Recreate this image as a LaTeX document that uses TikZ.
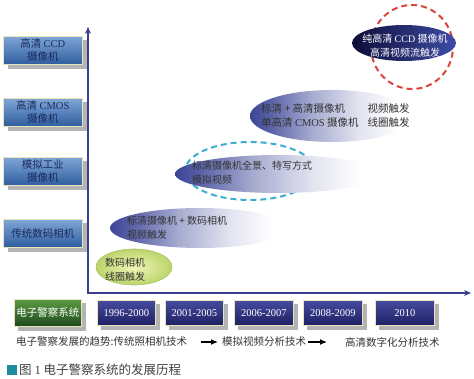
\documentclass[tikz,border=0pt]{standalone}
\usepackage{fontspec}
\setmainfont{Liberation Serif}
\newfontfamily\cjk{Noto Sans CJK SC}
\usetikzlibrary{arrows.meta,backgrounds}
\definecolor{axisblue}{HTML}{3A3F8F}
\definecolor{lbtop}{HTML}{7FA6D6}
\definecolor{lbbot}{HTML}{2F5E9E}
\definecolor{lbtext}{HTML}{1B2A5E}
\definecolor{boxedge}{HTML}{E6E4B8}
\definecolor{shadowgray}{HTML}{B4B4B4}
\definecolor{yrtop}{HTML}{464B9E}
\definecolor{yrbot}{HTML}{1E2163}
\definecolor{grtop}{HTML}{5C9A42}
\definecolor{grbot}{HTML}{1D4A1D}
\definecolor{fb}{HTML}{3B4596}
\colorlet{fbd}{fb!85!white}
\colorlet{fbm}{fb!45!white}
\colorlet{fbl}{fb!15!white}
\definecolor{gin}{HTML}{F1F6B6}
\definecolor{gout}{HTML}{BBD46C}
\definecolor{gedge}{HTML}{A9C262}
\definecolor{navyl}{HTML}{0D0D38}
\definecolor{navyr}{HTML}{3E4CA6}
\definecolor{cyandash}{HTML}{3AAED0}
\definecolor{reddash}{HTML}{D8453C}
\definecolor{capteal}{HTML}{1E8C9C}
\definecolor{txtgray}{HTML}{333333}
\pgfdeclarehorizontalshading{bluefade}{100bp}{color(0bp)=(fb); color(25bp)=(fb); color(31bp)=(fbd); color(44bp)=(fbm); color(58bp)=(fbl); color(70bp)=(white); color(100bp)=(white)}
\tikzset{
  leftbox/.style={draw=boxedge, line width=0.6pt, top color=lbtop, bottom color=lbbot,
    minimum width=79pt, minimum height=28pt, inner sep=0pt, align=center,
    font=\cjk\fontsize{10.5}{13}\selectfont, text=lbtext, anchor=north west},
  yearbox/.style={draw=boxedge, line width=0.6pt, top color=yrtop, bottom color=yrbot,
    minimum width=58pt, minimum height=25pt, inner sep=0pt,
    font=\fontsize{10.5}{12}\selectfont, text=white, anchor=north west},
  greenbox/.style={draw=boxedge, line width=0.6pt, top color=grtop, bottom color=grbot,
    minimum width=67pt, minimum height=27pt, inner sep=0pt,
    font=\cjk\fontsize{10.5}{12}\selectfont, text=white, anchor=north west},
  etext/.style={inner sep=0pt, align=left, font=\cjk\fontsize{10}{14}\selectfont, text=txtgray},
  axisline/.style={draw=axisblue, line width=1.6pt, line join=miter,
    {Stealth[length=7pt,width=6pt]}-{Stealth[length=7pt,width=6pt]}},
  trendarrow/.style={line width=1.2pt, -{Latex[length=7pt,width=6pt]}},
  dashring/.style={line width=2pt, dash pattern=on 6pt off 4pt},
  trendtext/.style={inner sep=0pt, anchor=west, font=\cjk\fontsize{10.5}{12}\selectfont, text=txtgray},
}
\begin{document}
\begin{tikzpicture}[x=1pt,y=-1pt]
\useasboundingbox (0,0) rectangle (474,379);

% axes
\coordinate (ytip) at (88,27);
\coordinate (origin) at (88,293);
\coordinate (xtip) at (471,293);
\draw[axisline] (ytip) -- (origin) -- (xtip);

% dashed rings (behind ellipses)
\draw[dashring, draw=cyandash] (250,171) ellipse [x radius=65pt, y radius=29pt];
\draw[dashring, draw=reddash] (412,47) ellipse [x radius=41pt, y radius=42pt];

% ellipses
\shade[shading=bluefade] (200,228) ellipse [x radius=90pt, y radius=20pt];
\shade[shading=bluefade] (278,174) ellipse [x radius=103pt, y radius=19pt];
\shade[shading=bluefade] (332,116) ellipse [x radius=82pt, y radius=26pt];
\shade[inner color=gin, outer color=gout, draw=gedge, line width=0.6pt] (134,267) ellipse [x radius=38pt, y radius=18pt];
\shade[left color=navyl, right color=navyr] (404,43) ellipse [x radius=52pt, y radius=18pt];

% ellipse texts
\node[etext, anchor=west] (gtxt) at (105,270) {数码相机\\线圈触发};
\node[etext, anchor=west] (e2txt) at (127,228) {标清摄像机 + 数码相机\\视频触发};
\node[etext, anchor=west] (e3txt) at (192,173) {标清摄像机全景、特写方式\\模拟视频};
\node[etext, anchor=west, font=\cjk\fontsize{10.5}{14}\selectfont] (e4txt) at (261,117) {\begin{tabular}{@{}l@{\hspace{9pt}}l@{}}标清 + 高清摄像机 & 视频触发\\[0pt]单高清 \textrm{CMOS} 摄像机 & 线圈触发\end{tabular}};
\node[etext, align=center, text=white] (e5txt) at (405,46) {纯高清 \textrm{CCD} 摄像机\\高清视频流触发};

% left boxes
\node[leftbox] (b1) at (3,36) {高清 \textrm{CCD}\\摄像机};
\node[leftbox] (b2) at (3,98) {高清 \textrm{CMOS}\\摄像机};
\node[leftbox] (b3) at (3,157) {模拟工业\\摄像机};
\node[leftbox] (b4) at (3,219) {传统数码相机};

% bottom boxes
\node[greenbox] (sys) at (14,299) {电子警察系统};
\node[yearbox] (y1) at (97,300) {1996-2000};
\node[yearbox] (y2) at (165,300) {2001-2005};
\node[yearbox, minimum width=59pt] (y3) at (234,300) {2006-2007};
\node[yearbox, minimum width=59pt] (y4) at (303,300) {2008-2009};
\node[yearbox, minimum width=59pt] (y5) at (375,300) {2010};

\begin{scope}[on background layer]
  \foreach \n in {b1,b2,b3,b4}{
    \fill[shadowgray] ([xshift=5pt,yshift=-4pt]\n.north west) rectangle ([xshift=5pt,yshift=-4pt]\n.south east);
  }
  \foreach \n in {sys,y1,y2,y3,y4,y5}{
    \fill[shadowgray] ([xshift=4pt,yshift=-4pt]\n.north west) rectangle ([xshift=4pt,yshift=-4pt]\n.south east);
  }
\end{scope}

% trend line
\node[trendtext] (t1) at (16,342) {电子警察发展的趋势:传统照相机技术};
\node[trendtext] (t2) at (222,342) {模拟视频分析技术};
\node[trendtext] (t3) at (345,342) {高清数字化分析技术};
\coordinate (a1s) at (201,342);
\coordinate (a2e) at (327,342);
\draw[trendarrow] (a1s) -- ([xshift=-4pt]t2.west);
\draw[trendarrow] ([xshift=2pt]t2.east) -- (a2e);

% caption
\fill[capteal] (7,365) rectangle (17,375);
\node[inner sep=0pt, anchor=west, font=\cjk\fontsize{12.5}{14}\selectfont, text=black!75] (cap) at (19,370) {图 \textrm{1} 电子警察系统的发展历程};
\end{tikzpicture}
\end{document}
